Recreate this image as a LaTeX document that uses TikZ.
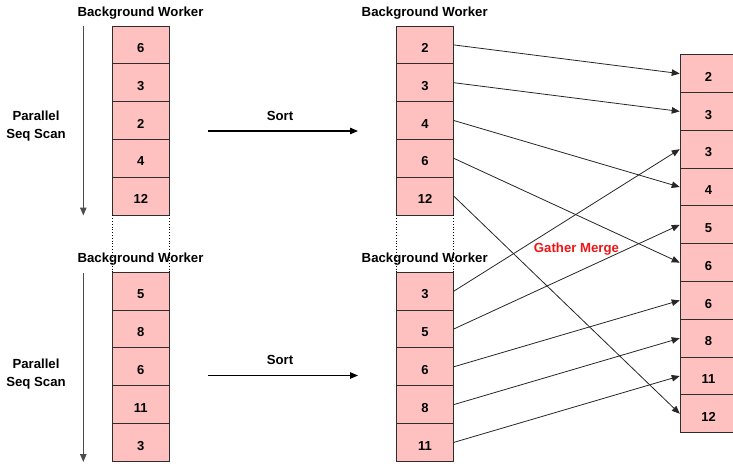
\documentclass[tikz,border=0pt]{standalone}
\usepackage{fontspec}
\setmainfont{Liberation Sans}
\usetikzlibrary{arrows.meta}
\definecolor{cellpink}{RGB}{255,192,192}
\definecolor{cellline}{RGB}{45,45,45}
\definecolor{mergered}{RGB}{240,20,20}
\begin{document}
\begin{tikzpicture}[x=1pt,y=-1pt,
  cell/.style={draw=cellline, line width=0.9pt, fill=cellpink, rectangle,
    minimum width=56.6pt, minimum height=37.8pt, inner sep=0pt,
    font=\fontsize{13}{15}\selectfont\bfseries, text height=15.3pt, text depth=0pt},
  lbl/.style={font=\fontsize{13.2}{18}\selectfont\bfseries, inner sep=0pt, align=center},
  conn/.style={draw=black!85, line width=0.8pt, -{Triangle[length=8pt,width=6.5pt]}},
  scanarrow/.style={draw=black!70, line width=1pt, -{Triangle[length=8pt,width=6.5pt]}},
  sortarrow/.style={draw=black, line width=1.1pt, -{Triangle[length=8pt,width=6.5pt]}},
  sep/.style={draw=black, line width=0.8pt, dotted}
]
\useasboundingbox (0,0) rectangle (733,463);

% left column, worker 1
\foreach \v [count=\i] in {6,3,2,4,12}
  \node[cell] (A\i) at (140.8, {26+18.9+(\i-1)*37.8}) {\v};
% left column, worker 2
\foreach \v [count=\i] in {5,8,6,11,3}
  \node[cell] (B\i) at (140.8, {272.3+18.9+(\i-1)*37.8}) {\v};
% middle column, worker 1
\foreach \v [count=\i] in {2,3,4,6,12}
  \node[cell] (C\i) at (425, {26+18.9+(\i-1)*37.8}) {\v};
% middle column, worker 2
\foreach \v [count=\i] in {3,5,6,8,11}
  \node[cell] (D\i) at (425, {272.3+18.9+(\i-1)*37.8}) {\v};
% right column, merged
\foreach \v [count=\i] in {2,3,3,4,5,6,6,8,11,12}
  \node[cell] (R\i) at (708.5, {54.7+18.9+(\i-1)*37.8}) {\v};

% dotted separators
\draw[sep] (A5.south west) -- (B1.north west);
\draw[sep] (A5.south east) -- (B1.north east);
\draw[sep] (C5.south west) -- (D1.north west);
\draw[sep] (C5.south east) -- (D1.north east);

% labels
\node[lbl] (bw1) at (140.5,13) {Background Worker};
\node[lbl] (bw2) at (140.5,259) {Background Worker};
\node[lbl] (bw3) at (424.7,13) {Background Worker};
\node[lbl] (bw4) at (424.7,259) {Background Worker};
\node[lbl] (ps1) at (36,126) {Parallel\\Seq Scan};
\node[lbl] (ps2) at (36,374) {Parallel\\Seq Scan};
\node[lbl] (so1) at (280,116) {Sort};
\node[lbl] (so2) at (280,360) {Sort};
\node[lbl, text=mergered] (gm) at (576.5,249) {Gather Merge};

% scan arrows
\coordinate (s1a) at (83.3,26);
\coordinate (s1b) at (83.3,215.5);
\coordinate (s2a) at (83.3,272.5);
\coordinate (s2b) at (83.3,462);
\draw[scanarrow] (s1a) -- (s1b);
\draw[scanarrow] (s2a) -- (s2b);

% sort arrows
\coordinate (t1a) at (208,131);
\coordinate (t1b) at (358,131);
\coordinate (t2a) at (208,375.5);
\coordinate (t2b) at (358,375.5);
\draw[sortarrow] (t1a) -- (t1b);
\draw[sortarrow] (t2a) -- (t2b);

% gather merge connectors
\draw[conn] (C1.east) -- (R1.west);
\draw[conn] (C2.east) -- (R2.west);
\draw[conn] (C3.east) -- (R4.west);
\draw[conn] (C4.east) -- (R6.west);
\draw[conn] (C5.east) -- (R10.west);
\draw[conn] (D1.east) -- (R3.west);
\draw[conn] (D2.east) -- (R5.west);
\draw[conn] (D3.east) -- (R7.west);
\draw[conn] (D4.east) -- (R8.west);
\draw[conn] (D5.east) -- (R9.west);
\end{tikzpicture}
\end{document}
